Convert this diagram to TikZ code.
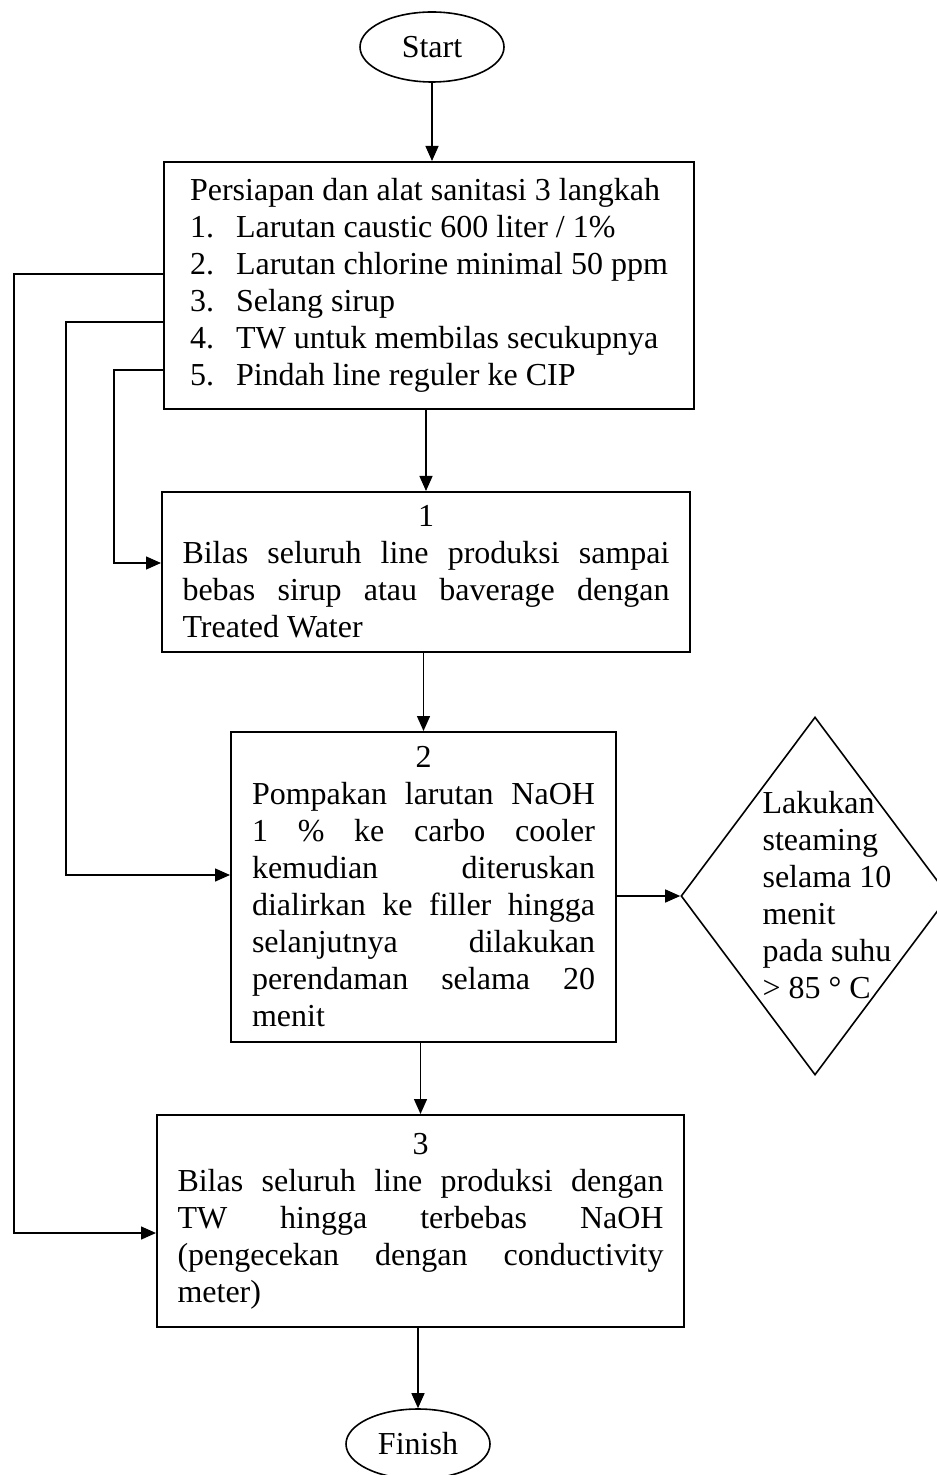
\documentclass[tikz,border=0pt]{standalone}
\usepackage{fontspec}
\setmainfont{Liberation Serif}
\usetikzlibrary{shapes.geometric,arrows.meta}
% justified lines break only where asked
\tolerance=9999
\pretolerance=-1
\hyphenpenalty=10000
\begin{document}
\begin{tikzpicture}[x=0.5pt,y=-0.5pt,
  every node/.style={font={\fontsize{16}{18.5}\selectfont}},
  box/.style={draw,line width=1pt,rectangle,inner sep=0pt},
  terminal/.style={draw,line width=0.8pt,ellipse,minimum width=72pt,minimum height=35pt,inner sep=0pt},
  decision/.style={draw,line width=0.8pt,diamond,minimum width=134pt,minimum height=179pt,inner sep=0pt},
  flow/.style={line width=0.7pt,-{Triangle[length=7.5pt,width=6.5pt]}}
]
% page frame
\useasboundingbox (0,0) rectangle (936,1475);
\fill[white] (0,0) rectangle (936,1475);

% terminals
\node[terminal] (start) at (432,47) {Start};
\node[terminal] (finish) at (418,1444) {Finish};

% preparation box
\node[box,align=left,minimum width=265pt,minimum height=123.5pt] (box0) at (429,285.5)
  {\raisebox{-1.5pt}{}Persiapan dan alat sanitasi 3 langkah\\
   \makebox[23pt][l]{1.}Larutan caustic 600 liter / 1\%\\
   \makebox[23pt][l]{2.}Larutan chlorine minimal 50 ppm\\
   \makebox[23pt][l]{3.}Selang sirup\\
   \makebox[23pt][l]{4.}TW untuk membilas secukupnya\\
   \makebox[23pt][l]{5.}Pindah line reguler ke CIP\rule[-4pt]{0pt}{0pt}};

% step 1
\node[box,align=justify,text width=243.5pt,minimum width=264pt,minimum height=80pt] (box1) at (426,572)
  {{\centering 1\par}Bilas seluruh line produksi sampai\linebreak
   bebas sirup atau baverage dengan\linebreak
   Treated Water};

% step 2
\node[box,align=justify,text width=171.5pt,minimum width=192.5pt,minimum height=155pt] (box2) at (423.5,887)
  {{\centering 2\par}Pompakan larutan NaOH\linebreak
   1 \% ke carbo cooler\linebreak
   kemudian diteruskan\linebreak
   dialirkan ke filler hingga\linebreak
   selanjutnya dilakukan\linebreak
   perendaman selama 20\linebreak
   menit};

% step 3
\node[box,align=justify,text width=243pt,minimum width=263.5pt,minimum height=106pt] (box3) at (420.5,1221)
  {{\centering 3\par}Bilas seluruh line produksi dengan\linebreak
   TW hingga terbebas NaOH\linebreak
   (pengecekan dengan conductivity\linebreak
   meter)};

% steaming decision
\node[decision] (steam) at (815,896) {};
\node[align=left] (steamtxt) at (827,895)
  {Lakukan\\steaming\\selama 10\\menit\\pada suhu\\> 85 ° C};

% main flow
\draw[flow] (start.south) -- (start.south |- box0.north);
\draw[flow] (box1.north |- box0.south) -- (box1.north);
\draw[flow] (box2.north |- box1.south) -- (box2.north);
\draw[flow] (box3.north |- box2.south) -- (box3.north);
\draw[flow] (finish.north |- box3.south) -- (finish.north);
\draw[flow] (box2.east |- steam.west) -- (steam.west);

% supply lines from the preparation box
\coordinate (tapA) at ([yshift=5.75pt]box0.west);
\coordinate (tapB) at ([yshift=-18.25pt]box0.west);
\coordinate (tapC) at ([yshift=-42.25pt]box0.west);
\coordinate (inA) at ([yshift=-6pt]box3.west);
\coordinate (inB) at ([yshift=6pt]box2.west);
\coordinate (inC) at ([yshift=4.5pt]box1.west);
\coordinate (railA) at (14,0);
\coordinate (railB) at (66,0);
\coordinate (railC) at (114,0);
\draw[flow] (tapA) -- (tapA -| railA) -- (inA -| railA) -- (inA);
\draw[flow] (tapB) -- (tapB -| railB) -- (inB -| railB) -- (inB);
\draw[flow] (tapC) -- (tapC -| railC) -- (inC -| railC) -- (inC);
\end{tikzpicture}
\end{document}
